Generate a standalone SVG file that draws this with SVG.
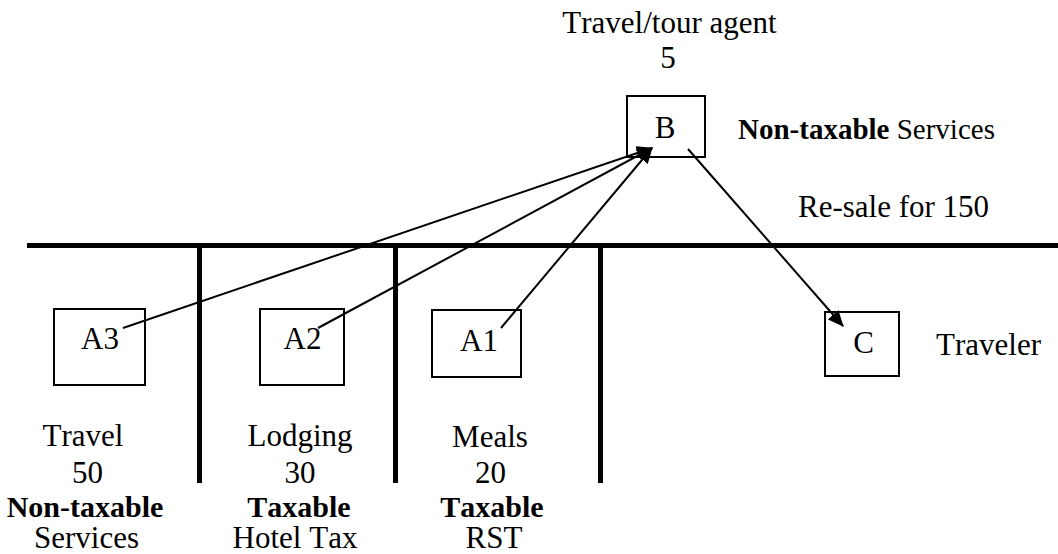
<svg xmlns="http://www.w3.org/2000/svg" width="1058" height="554" viewBox="0 0 1058 554">
<style>
text{font-family:"Liberation Serif","Times New Roman",serif;font-size:31px;fill:#000;font-kerning:none}
.c{text-anchor:middle}
.b{font-weight:bold;font-size:30px}
.s{font-size:29px}
.box{fill:#fff;stroke:#000;stroke-width:2}
.bar{stroke:#000;stroke-width:5;fill:none}
.con{stroke:#000;stroke-width:2;fill:none}
</style>
<defs>
<marker id="ah" markerWidth="16" markerHeight="14" refX="15" refY="7" orient="auto" markerUnits="userSpaceOnUse">
<path d="M0,0 L16,7 L0,14 Z" fill="#000"/>
</marker>
</defs>
<g id="dividers">
<line class="bar" x1="27" y1="245.5" x2="1058" y2="245.5"/>
<line class="bar" x1="199.5" y1="245" x2="199.5" y2="483"/>
<line class="bar" x1="395.5" y1="245" x2="395.5" y2="483"/>
<line class="bar" x1="600.5" y1="245" x2="600.5" y2="483"/>
</g>
<g id="B">
<text class="c" x="669.5" y="33">Travel/tour agent</text>
<text class="c" x="668" y="68">5</text>
<rect class="box" x="627" y="96" width="78" height="61"/>
<text class="c" x="665" y="138">B</text>
<text class="s" x="738" y="139"><tspan font-weight="bold">Non-taxable</tspan> Services</text>
<text x="798" y="217">Re-sale for 150</text>
</g>
<g id="A3">
<rect class="box" x="54" y="309" width="91" height="76"/>
<text class="c" x="100" y="349">A3</text>
<text class="c" x="83" y="446">Travel</text>
<text class="c" x="87.5" y="483">50</text>
<text class="c b" x="85" y="517">Non-taxable</text>
<text class="c" x="86.5" y="548">Services</text>
</g>
<g id="A2">
<rect class="box" x="260" y="309" width="84" height="76"/>
<text class="c" x="302.5" y="349">A2</text>
<text class="c" x="300" y="446">Lodging</text>
<text class="c" x="300" y="483">30</text>
<text class="c b" x="299" y="517">Taxable</text>
<text class="c" x="295" y="548">Hotel Tax</text>
</g>
<g id="A1">
<rect class="box" x="432" y="310" width="89" height="67"/>
<text class="c" x="479" y="351">A1</text>
<text class="c" x="490" y="447">Meals</text>
<text class="c" x="490.5" y="483">20</text>
<text class="c b" x="492" y="517">Taxable</text>
<text class="c" x="494" y="548">RST</text>
</g>
<g id="C">
<rect class="box" x="825" y="312" width="74" height="64"/>
<text class="c" x="863.5" y="353">C</text>
<text x="936" y="355">Traveler</text>
</g>
<g id="connectors">
<line class="con" x1="123" y1="328" x2="652" y2="148" marker-end="url(#ah)"/>
<line class="con" x1="318" y1="328" x2="652" y2="148" marker-end="url(#ah)"/>
<line class="con" x1="501" y1="328" x2="652" y2="148" marker-end="url(#ah)"/>
<line class="con" x1="688" y1="149" x2="843" y2="326" marker-end="url(#ah)"/>
</g>
</svg>
